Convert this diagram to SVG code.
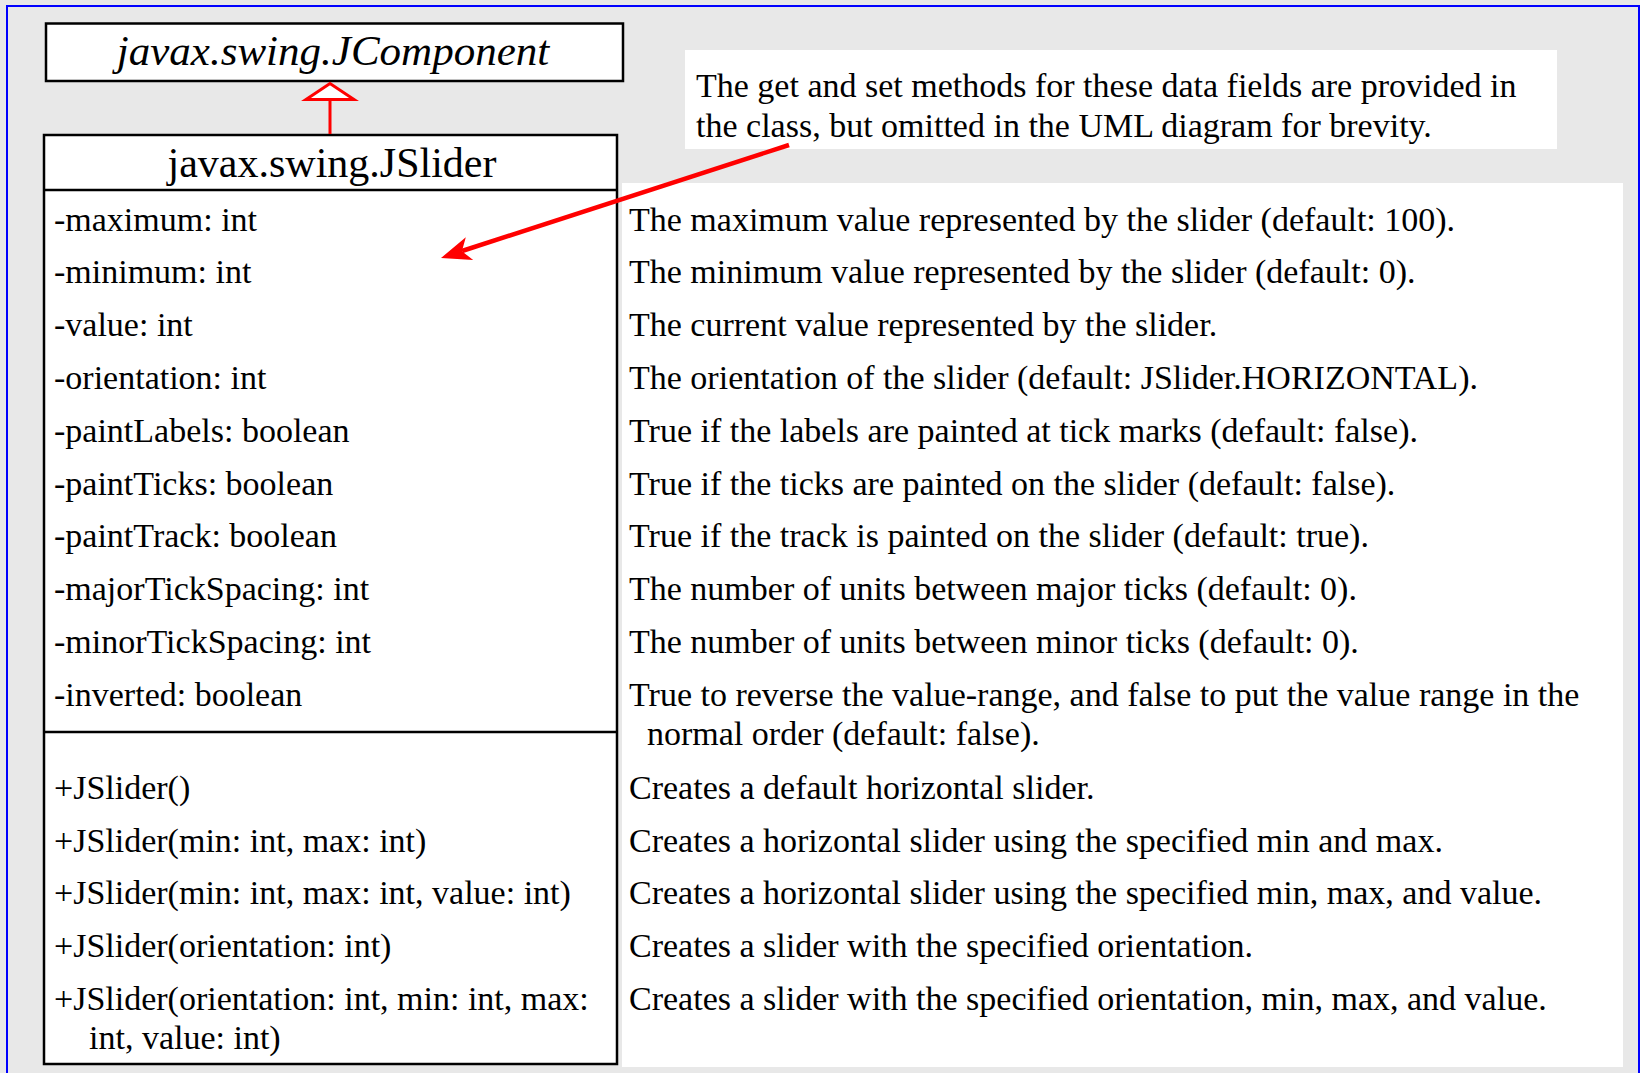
<svg xmlns="http://www.w3.org/2000/svg" width="1640" height="1073" viewBox="0 0 1640 1073">
<style>
.t{font-family:"Liberation Serif","Times New Roman",serif;font-size:34px;fill:#000}
.title{font-family:"Liberation Serif","Times New Roman",serif;font-size:42px;fill:#000;text-anchor:middle}
.it{font-style:italic;font-size:43px}
.box{fill:#fff;stroke:#000;stroke-width:2.5}
.div{stroke:#000;stroke-width:2.5}
.red{stroke:#ff0000;fill:none}
</style>
<rect x="0" y="0" width="1640" height="1073" fill="#e8e8e8"/>
<rect x="7" y="6" width="1632" height="1080" fill="none" stroke="#0000ff" stroke-width="2"/>
<g id="note">
<rect x="685" y="50" width="872" height="99" fill="#fff"/>
<text class="t" x="696" y="97">The get and set methods for these data fields are provided in</text>
<text class="t" x="696" y="136.5">the class, but omitted in the UML diagram for brevity.</text>
</g>
<g id="descriptions">
<rect x="622" y="183" width="1001" height="884" fill="#fff"/>
<text class="t" x="629" y="230.5">The maximum value represented by the slider (default: 100).</text>
<text class="t" x="629" y="283.3">The minimum value represented by the slider (default: 0).</text>
<text class="t" x="629" y="336.1">The current value represented by the slider.</text>
<text class="t" x="629" y="388.9">The orientation of the slider (default: JSlider.HORIZONTAL).</text>
<text class="t" x="629" y="441.7">True if the labels are painted at tick marks (default: false).</text>
<text class="t" x="629" y="494.5">True if the ticks are painted on the slider (default: false).</text>
<text class="t" x="629" y="547.3">True if the track is painted on the slider (default: true).</text>
<text class="t" x="629" y="600.1">The number of units between major ticks (default: 0).</text>
<text class="t" x="629" y="652.9">The number of units between minor ticks (default: 0).</text>
<text class="t" x="629" y="705.7">True to reverse the value-range, and false to put the value range in the</text>
<text class="t" x="647" y="744.5">normal order (default: false).</text>
<text class="t" x="629" y="799">Creates a default horizontal slider.</text>
<text class="t" x="629" y="851.7">Creates a horizontal slider using the specified min and max.</text>
<text class="t" x="629" y="904.4">Creates a horizontal slider using the specified min, max, and value.</text>
<text class="t" x="629" y="957.1">Creates a slider with the specified orientation.</text>
<text class="t" x="629" y="1009.8">Creates a slider with the specified orientation, min, max, and value.</text>
</g>
<g id="JComponent">
<rect class="box" x="46" y="23.5" width="577" height="57.5"/>
<text class="title it" x="333" y="65">javax.swing.JComponent</text>
</g>
<g id="JSlider">
<rect class="box" x="44" y="135" width="573" height="929"/>
<line class="div" x1="44" y1="190" x2="617" y2="190"/>
<line class="div" x1="44" y1="732" x2="617" y2="732"/>
<text class="title" x="332" y="177">javax.swing.JSlider</text>
<text class="t" x="54" y="230.5">-maximum: int</text>
<text class="t" x="54" y="283.3">-minimum: int</text>
<text class="t" x="54" y="336.1">-value: int</text>
<text class="t" x="54" y="388.9">-orientation: int</text>
<text class="t" x="54" y="441.7">-paintLabels: boolean</text>
<text class="t" x="54" y="494.5">-paintTicks: boolean</text>
<text class="t" x="54" y="547.3">-paintTrack: boolean</text>
<text class="t" x="54" y="600.1">-majorTickSpacing: int</text>
<text class="t" x="54" y="652.9">-minorTickSpacing: int</text>
<text class="t" x="54" y="705.7">-inverted: boolean</text>
<text class="t" x="54" y="799">+JSlider()</text>
<text class="t" x="54" y="851.7">+JSlider(min: int, max: int)</text>
<text class="t" x="54" y="904.4">+JSlider(min: int, max: int, value: int)</text>
<text class="t" x="54" y="957.1">+JSlider(orientation: int)</text>
<text class="t" x="54" y="1009.8">+JSlider(orientation: int, min: int, max:</text>
<text class="t" x="89" y="1049">int, value: int)</text>
</g>
<g id="connectors">
<line class="red" x1="330" y1="134" x2="330" y2="99.5" stroke-width="3"/>
<polygon points="330,83.5 306,99.5 354,99.5" fill="#fff" stroke="#ff0000" stroke-width="3"/>
<line class="red" x1="789" y1="145" x2="462" y2="251" stroke-width="4.5"/>
<polygon points="441,258 465.8,237.3 461.9,251.2 473.2,260.1" fill="#ff0000"/>
</g>
</svg>
